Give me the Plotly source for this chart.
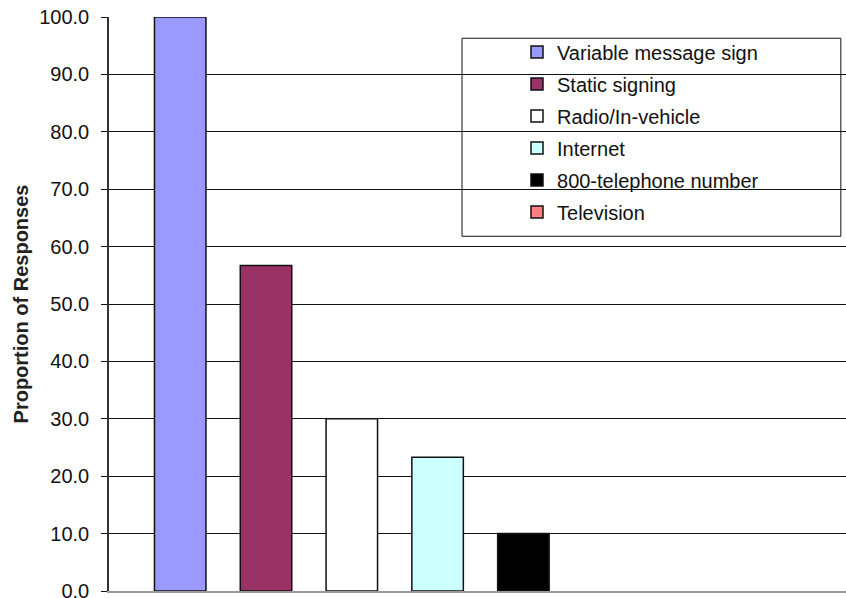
import plotly.graph_objects as go

categories = ["Variable message sign", "Static signing", "Radio/In-vehicle",
              "Internet", "800-telephone number", "Television"]
values = [100.0, 56.7, 30.0, 23.3, 10.0, 0.0]
colors = ["#9999FF", "#993366", "#FFFFFF", "#CCFFFF", "#000000", "#FF8080"]
y_ticks = [0, 10, 20, 30, 40, 50, 60, 70, 80, 90, 100]

FONT = "Arial, Liberation Sans, sans-serif"

fig = go.Figure()
for i, (cat, val, col) in enumerate(zip(categories, values, colors)):
    fig.add_trace(go.Bar(
        x=[cat], y=[val if val > 0 else None], name=cat, width=0.6,
        marker=dict(color=col, line=dict(color="#111111", width=1.5)),
        legendgroup=f"g{i}",
    ))

fig.update_layout(
    width=846, height=598,
    margin=dict(l=109, r=0, t=17, b=7, autoexpand=False),
    paper_bgcolor="white", plot_bgcolor="white",
    barmode="overlay",
    font=dict(family=FONT, size=20, color="#111111"),
    showlegend=True,
    legend=dict(
        x=0.5536, y=0.973, xanchor="left", yanchor="top",
        bgcolor="rgba(0,0,0,0)", borderwidth=0,
        font=dict(family=FONT, size=20, color="#111111"),
        tracegroupgap=3,
    ),
    shapes=[dict(
        type="rect", xref="paper", yref="paper",
        x0=0.479, x1=0.993, y0=0.618, y1=0.963,
        line=dict(color="#111111", width=1), fillcolor="white", layer="below",
    )],
)

fig.update_xaxes(
    type="category", categoryorder="array", categoryarray=categories,
    range=[-0.83, 7.76], showticklabels=False, ticks="",
    showgrid=False, zeroline=False, automargin=False,
    showline=True, linecolor="#9a9a9a", linewidth=2,
)
fig.update_yaxes(
    range=[0, 100], tickvals=y_ticks, tickformat=".1f",
    showgrid=True, gridcolor="#111111", gridwidth=1,
    zeroline=False, showline=True, linecolor="#333333", linewidth=1.5,
    ticks="outside", ticklen=6, tickcolor="#111111", ticklabelstandoff=8,
    ticklabeloverflow="allow", automargin=False,
    tickfont=dict(family=FONT, size=20, color="#111111"),
    title=dict(text="<b>Proportion of Responses</b>", standoff=5,
               font=dict(family=FONT, size=20, color="#222222")),
)

fig.write_html("out.html")
